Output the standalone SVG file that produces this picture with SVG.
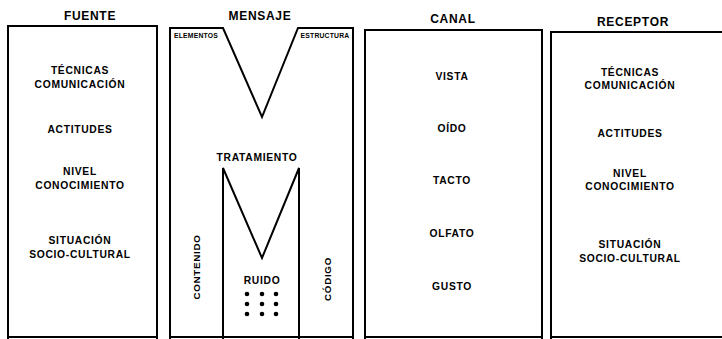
<svg xmlns="http://www.w3.org/2000/svg" width="722" height="339" viewBox="0 0 722 339">
<style>
.box{fill:none;stroke:#000;stroke-width:2;stroke-linejoin:miter}
.ln{fill:none;stroke:#000;stroke-width:2;stroke-linejoin:miter}
text{font-family:"Liberation Sans",Arial,sans-serif;font-weight:bold;fill:#000;text-anchor:middle}
.h{font-size:12px;letter-spacing:0.7px}
.t{font-size:10.3px;letter-spacing:0.7px}
.v{font-size:9.8px;letter-spacing:0.7px}
.s{font-size:6.8px;letter-spacing:0.2px}
</style>
<rect width="722" height="339" fill="#fff"/>
<g id="fuente">
<text class="h" x="90" y="20">FUENTE</text>
<polyline class="box" points="8,339 8,26 157,26 157,339"/>
<line class="ln" x1="8" y1="337" x2="157" y2="337"/>
<text class="t" x="80" y="74">TÉCNICAS</text>
<text class="t" x="80" y="88">COMUNICACIÓN</text>
<text class="t" x="80" y="133">ACTITUDES</text>
<text class="t" x="80" y="175">NIVEL</text>
<text class="t" x="80" y="189">CONOCIMIENTO</text>
<text class="t" x="80" y="244">SITUACIÓN</text>
<text class="t" x="80" y="258">SOCIO-CULTURAL</text>
</g>
<g id="mensaje">
<text class="h" x="260" y="20">MENSAJE</text>
<polyline class="box" points="170,339 170,28 223,28 262,117 298,28 353,28 353,339"/>
<line class="ln" x1="170" y1="337" x2="353" y2="337"/>
<text class="s" x="196" y="38">ELEMENTOS</text>
<text class="s" x="325" y="38">ESTRUCTURA</text>
<text class="t" x="257" y="161">TRATAMIENTO</text>
<polyline class="ln" points="223,339 223,168 262,258 299,168 299,339"/>
<text class="v" transform="translate(200,267) rotate(-90)">CONTENIDO</text>
<text class="v" transform="translate(331,279) rotate(-90)">CÓDIGO</text>
<text class="t" x="262" y="284">RUIDO</text>
<g fill="#000">
<circle cx="247" cy="294" r="2.3"/><circle cx="262" cy="294" r="2.3"/><circle cx="276" cy="294" r="2.3"/>
<circle cx="247" cy="304" r="2.3"/><circle cx="262" cy="304" r="2.3"/><circle cx="276" cy="304" r="2.3"/>
<circle cx="247" cy="314" r="2.3"/><circle cx="262" cy="314" r="2.3"/><circle cx="276" cy="314" r="2.3"/>
</g>
</g>
<g id="canal">
<text class="h" x="453" y="23">CANAL</text>
<polyline class="box" points="365,339 365,30 542,30 542,339"/>
<line class="ln" x1="365" y1="337" x2="542" y2="337"/>
<text class="t" x="452" y="80">VISTA</text>
<text class="t" x="452" y="132">OÍDO</text>
<text class="t" x="452" y="184">TACTO</text>
<text class="t" x="452" y="237">OLFATO</text>
<text class="t" x="452" y="290">GUSTO</text>
</g>
<g id="receptor">
<text class="h" x="633" y="26">RECEPTOR</text>
<polyline class="box" points="551,339 551,32 722,32"/>
<line class="ln" x1="551" y1="337" x2="722" y2="337"/>
<text class="t" x="630" y="76">TÉCNICAS</text>
<text class="t" x="630" y="89">COMUNICACIÓN</text>
<text class="t" x="630" y="137">ACTITUDES</text>
<text class="t" x="630" y="177">NIVEL</text>
<text class="t" x="630" y="190">CONOCIMIENTO</text>
<text class="t" x="630" y="248">SITUACIÓN</text>
<text class="t" x="630" y="262">SOCIO-CULTURAL</text>
</g>
<g id="connectors"></g>
</svg>
